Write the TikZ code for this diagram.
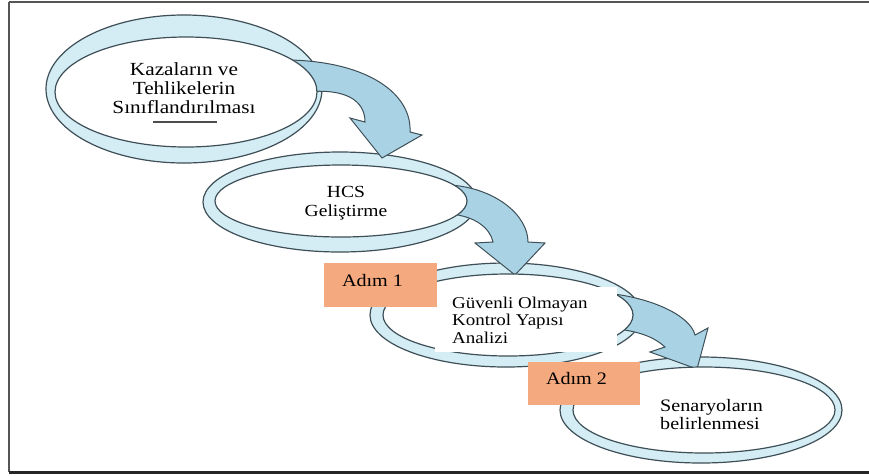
\documentclass[tikz,border=0pt]{standalone}
\usepackage{fontspec}
\setmainfont{Liberation Serif}[FakeStretch=1.15]
\definecolor{ringline}{HTML}{3E4F57}
\definecolor{ringfill}{HTML}{D4ECF4}
\definecolor{arrowfill}{HTML}{A9D3E4}
\definecolor{stepfill}{HTML}{F4A97E}
\definecolor{framegray}{HTML}{555555}
\tikzset{
  ringouter/.style={draw=ringline, line width=1.2pt, fill=ringfill},
  ringinner/.style={draw=ringline, line width=1.2pt, fill=white},
  blockarrow/.style={draw=ringline, line width=1pt, fill=arrowfill, line join=miter},
  stepbox/.style={fill=stepfill, draw=none},
  label/.style={inner sep=0pt, font=\fontsize{#1}{#1}\selectfont},
}
\begin{document}
\begin{tikzpicture}[x=1pt,y=-1pt]
\useasboundingbox (0,0) rectangle (869,475);
\fill[white] (0,0) rectangle (869,475);
% frame
\draw[framegray, line width=2pt] (9,2) -- (869,2);
\draw[framegray, line width=2pt] (9,2) -- (9,472);
\draw[black!85, line width=3pt] (9,472) -- (869,472);
% outer rings
\draw[ringouter] (184,89) ellipse [x radius=138pt, y radius=74pt];
\draw[ringouter] (340,202) ellipse [x radius=137pt, y radius=50pt];
\draw[ringouter] (506,315) ellipse [x radius=136pt, y radius=52pt];
\draw[ringouter] (701,410) ellipse [x radius=141pt, y radius=53pt];
% block arrows
\draw[blockarrow] (290,60) .. controls (370,62) and (412,95) .. (410,132)
  -- (422,135) -- (382,158) -- (350,118) -- (365,122)
  .. controls (365,100) and (345,88) .. (305,92) -- cycle;
\draw[blockarrow] (450,185) .. controls (495,188) and (528,215) .. (528,242)
  -- (545,243) -- (515,275) -- (475,243) -- (493,242)
  .. controls (490,228) and (475,216) .. (450,214) -- cycle;
\draw[blockarrow] (605,293) .. controls (650,297) and (690,315) .. (695,335)
  -- (708,328) -- (697,369) -- (650,352) -- (665,347)
  .. controls (655,338) and (640,330) .. (605,328) -- cycle;
% inner ellipses
\draw[ringinner] (186,92) ellipse [x radius=131pt, y radius=55pt];
\draw[ringinner] (341,201) ellipse [x radius=126pt, y radius=36pt];
\draw[ringinner] (508,315) ellipse [x radius=125pt, y radius=41pt];
\draw[ringinner] (704,410) ellipse [x radius=131pt, y radius=43pt];
% white patch behind third text
\fill[white] (435,287) rectangle (617,352);
% stray underline
\draw[black!70, line width=1.3pt] (153,122) -- (217,122);
% texts
\node[label=18.5, align=center, font=\fontsize{18.5}{19}\selectfont] (t1) at (184,88) {Kazaların ve\\Tehlikelerin\\Sınıflandırılması};
\node[label=17, align=center, font=\fontsize{17}{19}\selectfont] (t2) at (346,203.5) {HCS\\Geliştirme};
\node[label=16.5, align=left, anchor=west, font=\fontsize{16.5}{17.5}\selectfont] (t3) at (452,320) {Güvenli Olmayan\\Kontrol Yapısı\\Analizi};
\node[label=17.5, align=left, anchor=west, font=\fontsize{17.5}{18}\selectfont] (t4) at (660,415) {Senaryoların\\belirlenmesi};
% step boxes
\fill[stepfill] (324,263) rectangle (437,307);
\fill[stepfill] (528,362) rectangle (640,405);
\node[label=17.5] (s1) at (372.5,281) {Adım 1};
\node[label=17.5] (s2) at (576.5,379) {Adım 2};
\end{tikzpicture}
\end{document}
